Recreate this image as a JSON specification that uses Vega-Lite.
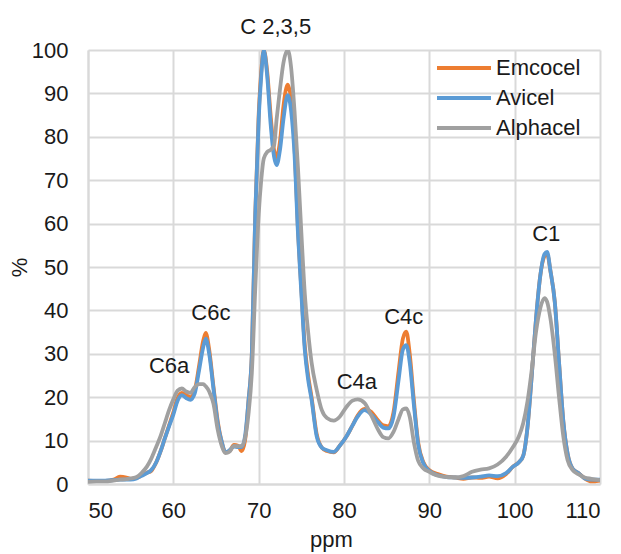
{
  "$schema": "https://vega.github.io/schema/vega-lite/v6.json",
  "width": 512,
  "height": 434,
  "autosize": "none",
  "padding": {"left": 88, "top": 50, "right": 21, "bottom": 70},
  "background": "white",
  "config": {
    "font": "Liberation Sans",
    "view": {"stroke": null},
    "axis": {
      "gridColor": "#D9D9D9", "gridWidth": 2, "domainColor": "#D9D9D9", "domainWidth": 2,
      "ticks": false, "labelFontSize": 22, "labelColor": "#1a1a1a", "titleFontSize": 22,
      "titleColor": "#1a1a1a", "titleFontWeight": "normal"
    }
  },
  "datasets": {
    "spectra": [
      {"ppm": 50, "Emcocel": 0.8, "Avicel": 0.8, "Alphacel": 0.5},
      {"ppm": 51, "Emcocel": 0.7, "Avicel": 0.8, "Alphacel": 0.6},
      {"ppm": 52, "Emcocel": 0.7, "Avicel": 0.8, "Alphacel": 0.6},
      {"ppm": 53, "Emcocel": 1.0, "Avicel": 0.9, "Alphacel": 0.8},
      {"ppm": 53.75, "Emcocel": 1.7, "Avicel": 1.0, "Alphacel": 1.0},
      {"ppm": 54.5, "Emcocel": 1.5, "Avicel": 1.0, "Alphacel": 1.1},
      {"ppm": 55, "Emcocel": 1.2, "Avicel": 1.0, "Alphacel": 1.3},
      {"ppm": 55.7, "Emcocel": 1.4, "Avicel": 1.3, "Alphacel": 1.6},
      {"ppm": 56.3, "Emcocel": 2.0, "Avicel": 1.9, "Alphacel": 2.6},
      {"ppm": 56.9, "Emcocel": 2.6, "Avicel": 2.5, "Alphacel": 4.0},
      {"ppm": 57.4, "Emcocel": 3.0, "Avicel": 3.2, "Alphacel": 5.8},
      {"ppm": 58, "Emcocel": 5.0, "Avicel": 5.0, "Alphacel": 8.6},
      {"ppm": 58.5, "Emcocel": 7.5, "Avicel": 7.5, "Alphacel": 11.0},
      {"ppm": 59, "Emcocel": 10.5, "Avicel": 10.5, "Alphacel": 14.0},
      {"ppm": 59.5, "Emcocel": 13.5, "Avicel": 13.3, "Alphacel": 17.0},
      {"ppm": 60, "Emcocel": 16.5, "Avicel": 16.0, "Alphacel": 19.5},
      {"ppm": 60.5, "Emcocel": 19.8, "Avicel": 19.2, "Alphacel": 21.5},
      {"ppm": 61, "Emcocel": 21.0, "Avicel": 20.5, "Alphacel": 22.0},
      {"ppm": 61.5, "Emcocel": 20.5, "Avicel": 19.8, "Alphacel": 21.3},
      {"ppm": 62, "Emcocel": 20.0, "Avicel": 19.4, "Alphacel": 21.0},
      {"ppm": 62.5, "Emcocel": 21.5, "Avicel": 20.8, "Alphacel": 22.3},
      {"ppm": 63, "Emcocel": 27, "Avicel": 26, "Alphacel": 23.0},
      {"ppm": 63.5, "Emcocel": 33, "Avicel": 31.5, "Alphacel": 23.0},
      {"ppm": 63.8, "Emcocel": 34.8, "Avicel": 33.5, "Alphacel": 22.5},
      {"ppm": 64.2, "Emcocel": 31, "Avicel": 30, "Alphacel": 21.3},
      {"ppm": 64.7, "Emcocel": 22.5, "Avicel": 22, "Alphacel": 18.5},
      {"ppm": 65.2, "Emcocel": 14.5, "Avicel": 14, "Alphacel": 12.5},
      {"ppm": 65.7, "Emcocel": 9.5, "Avicel": 9.5, "Alphacel": 8.6},
      {"ppm": 66.1, "Emcocel": 7.3, "Avicel": 7.3, "Alphacel": 7.1},
      {"ppm": 66.6, "Emcocel": 7.6, "Avicel": 7.8, "Alphacel": 7.5},
      {"ppm": 67.1, "Emcocel": 9.0, "Avicel": 8.6, "Alphacel": 8.8},
      {"ppm": 67.6, "Emcocel": 8.8, "Avicel": 8.5, "Alphacel": 8.7},
      {"ppm": 68, "Emcocel": 7.6, "Avicel": 8.5, "Alphacel": 8.8},
      {"ppm": 68.4, "Emcocel": 10, "Avicel": 11, "Alphacel": 10.5},
      {"ppm": 68.8, "Emcocel": 19, "Avicel": 19, "Alphacel": 16},
      {"ppm": 69.2, "Emcocel": 30, "Avicel": 30, "Alphacel": 25.6},
      {"ppm": 69.6, "Emcocel": 62, "Avicel": 62, "Alphacel": 45},
      {"ppm": 70, "Emcocel": 85, "Avicel": 84, "Alphacel": 62},
      {"ppm": 70.3, "Emcocel": 95, "Avicel": 94, "Alphacel": 70},
      {"ppm": 70.6, "Emcocel": 100, "Avicel": 100, "Alphacel": 75},
      {"ppm": 71, "Emcocel": 95, "Avicel": 94, "Alphacel": 76.5},
      {"ppm": 71.4, "Emcocel": 85, "Avicel": 83, "Alphacel": 77},
      {"ppm": 71.8, "Emcocel": 77, "Avicel": 75.5, "Alphacel": 78},
      {"ppm": 72.1, "Emcocel": 75.3, "Avicel": 73.5, "Alphacel": 84},
      {"ppm": 72.5, "Emcocel": 79, "Avicel": 77, "Alphacel": 91},
      {"ppm": 72.9, "Emcocel": 87, "Avicel": 84, "Alphacel": 97},
      {"ppm": 73.4, "Emcocel": 92, "Avicel": 89.6, "Alphacel": 100},
      {"ppm": 73.8, "Emcocel": 88.5, "Avicel": 86, "Alphacel": 96},
      {"ppm": 74.2, "Emcocel": 78, "Avicel": 76, "Alphacel": 86},
      {"ppm": 74.6, "Emcocel": 59, "Avicel": 58, "Alphacel": 73},
      {"ppm": 75, "Emcocel": 45, "Avicel": 44, "Alphacel": 58},
      {"ppm": 75.4, "Emcocel": 32, "Avicel": 31, "Alphacel": 44},
      {"ppm": 75.8, "Emcocel": 25, "Avicel": 24, "Alphacel": 35},
      {"ppm": 76.2, "Emcocel": 20, "Avicel": 19.4, "Alphacel": 28},
      {"ppm": 76.8, "Emcocel": 11.5, "Avicel": 11, "Alphacel": 21.7},
      {"ppm": 77.4, "Emcocel": 8.4, "Avicel": 8.4, "Alphacel": 17},
      {"ppm": 78, "Emcocel": 7.6, "Avicel": 7.8, "Alphacel": 15.2},
      {"ppm": 78.8, "Emcocel": 7.3, "Avicel": 7.4, "Alphacel": 14.6},
      {"ppm": 79.5, "Emcocel": 8.8, "Avicel": 8.8, "Alphacel": 15.5},
      {"ppm": 80.3, "Emcocel": 11.0, "Avicel": 11.0, "Alphacel": 17.8},
      {"ppm": 81, "Emcocel": 13.5, "Avicel": 13.5, "Alphacel": 19.2},
      {"ppm": 81.6, "Emcocel": 15.8, "Avicel": 15.5, "Alphacel": 19.5},
      {"ppm": 82.4, "Emcocel": 17.3, "Avicel": 17.0, "Alphacel": 18.7},
      {"ppm": 83.2, "Emcocel": 16.6, "Avicel": 16.0, "Alphacel": 15.8},
      {"ppm": 84, "Emcocel": 14.6, "Avicel": 14.2, "Alphacel": 12.5},
      {"ppm": 84.6, "Emcocel": 13.5, "Avicel": 13.0, "Alphacel": 10.8},
      {"ppm": 85.2, "Emcocel": 13.3, "Avicel": 12.8, "Alphacel": 10.5},
      {"ppm": 85.8, "Emcocel": 16.5, "Avicel": 15.5, "Alphacel": 12.0},
      {"ppm": 86.4, "Emcocel": 26, "Avicel": 24, "Alphacel": 15},
      {"ppm": 86.9, "Emcocel": 33.5, "Avicel": 31, "Alphacel": 17.2},
      {"ppm": 87.3, "Emcocel": 35.1, "Avicel": 32, "Alphacel": 17.4},
      {"ppm": 87.7, "Emcocel": 30, "Avicel": 28, "Alphacel": 15.5},
      {"ppm": 88.2, "Emcocel": 19, "Avicel": 18, "Alphacel": 9.5},
      {"ppm": 88.7, "Emcocel": 9.5, "Avicel": 9, "Alphacel": 5.3},
      {"ppm": 89.3, "Emcocel": 5.0, "Avicel": 4.8, "Alphacel": 3.6},
      {"ppm": 90, "Emcocel": 3.2, "Avicel": 3.0, "Alphacel": 2.8},
      {"ppm": 91, "Emcocel": 2.3, "Avicel": 2.0, "Alphacel": 1.9},
      {"ppm": 92, "Emcocel": 1.7, "Avicel": 1.6, "Alphacel": 1.6},
      {"ppm": 93, "Emcocel": 1.5, "Avicel": 1.5, "Alphacel": 1.5},
      {"ppm": 94, "Emcocel": 1.2, "Avicel": 1.4, "Alphacel": 1.8},
      {"ppm": 95, "Emcocel": 1.5, "Avicel": 1.5, "Alphacel": 2.8},
      {"ppm": 96, "Emcocel": 1.4, "Avicel": 1.7, "Alphacel": 3.3},
      {"ppm": 97, "Emcocel": 1.7, "Avicel": 2.0, "Alphacel": 3.6},
      {"ppm": 98, "Emcocel": 1.3, "Avicel": 1.8, "Alphacel": 4.5},
      {"ppm": 99, "Emcocel": 2.3, "Avicel": 2.5, "Alphacel": 6.3},
      {"ppm": 99.8, "Emcocel": 4.0, "Avicel": 4.0, "Alphacel": 8.5},
      {"ppm": 100.5, "Emcocel": 5.0, "Avicel": 5.0, "Alphacel": 11},
      {"ppm": 101, "Emcocel": 6.5, "Avicel": 6.5, "Alphacel": 14},
      {"ppm": 101.5, "Emcocel": 13, "Avicel": 13, "Alphacel": 19},
      {"ppm": 102, "Emcocel": 25, "Avicel": 25, "Alphacel": 26.3},
      {"ppm": 102.5, "Emcocel": 38, "Avicel": 38, "Alphacel": 35},
      {"ppm": 103, "Emcocel": 48, "Avicel": 48, "Alphacel": 40.5},
      {"ppm": 103.5, "Emcocel": 52.5, "Avicel": 53, "Alphacel": 42.8},
      {"ppm": 103.8, "Emcocel": 53, "Avicel": 53.5, "Alphacel": 42.0},
      {"ppm": 104.2, "Emcocel": 49, "Avicel": 49, "Alphacel": 38},
      {"ppm": 104.7, "Emcocel": 42, "Avicel": 42, "Alphacel": 30},
      {"ppm": 105.2, "Emcocel": 28, "Avicel": 28, "Alphacel": 20},
      {"ppm": 105.7, "Emcocel": 14.5, "Avicel": 14.5, "Alphacel": 11},
      {"ppm": 106.2, "Emcocel": 7, "Avicel": 7, "Alphacel": 5.5},
      {"ppm": 106.8, "Emcocel": 3.5, "Avicel": 3.5, "Alphacel": 3.2},
      {"ppm": 107.5, "Emcocel": 2.5, "Avicel": 2.5, "Alphacel": 2.2},
      {"ppm": 108.2, "Emcocel": 1.3, "Avicel": 1.3, "Alphacel": 1.5},
      {"ppm": 109, "Emcocel": 0.6, "Avicel": 1.0, "Alphacel": 1.2},
      {"ppm": 110, "Emcocel": 0.8, "Avicel": 1.0, "Alphacel": 0.9}
    ],
    "labels": [
      {"label": "C 2,3,5", "ppm": 72.0, "pct": 105.2},
      {"label": "C6c", "ppm": 64.4, "pct": 39.3},
      {"label": "C6a", "ppm": 59.5, "pct": 27.3},
      {"label": "C4a", "ppm": 81.5, "pct": 23.5},
      {"label": "C4c", "ppm": 87.0, "pct": 38.4},
      {"label": "C1", "ppm": 103.7, "pct": 57.5}
    ]
  },
  "layer": [
    {
      "data": {"name": "spectra"},
      "transform": [
        {"fold": ["Emcocel", "Avicel", "Alphacel"], "as": ["series", "value"]}
      ],
      "mark": {"type": "line", "strokeWidth": 3.8, "interpolate": "monotone", "clip": true},
      "encoding": {
        "x": {
          "field": "ppm", "type": "quantitative",
          "scale": {"domain": [50, 110], "nice": false, "zero": false},
          "axis": {"values": [50, 60, 70, 80, 90, 100, 110], "title": "ppm", "labelPadding": 16,
                   "titleX": 243, "titleY": 62, "titleBaseline": "alphabetic"}
        },
        "y": {
          "field": "value", "type": "quantitative",
          "scale": {"domain": [0, 100], "nice": false},
          "axis": {"values": [0, 10, 20, 30, 40, 50, 60, 70, 80, 90, 100], "title": "%", "labelPadding": 20,
                   "titleX": -69, "titleY": 217, "titleAngle": -90, "titleBaseline": "middle", "titleAlign": "center"}
        },
        "color": {
          "field": "series", "type": "nominal",
          "scale": {"domain": ["Emcocel", "Avicel", "Alphacel"], "range": ["#ED7D31", "#5B9BD5", "#A0A0A0"]},
          "legend": {
            "title": null, "orient": "none", "legendX": 347, "legendY": 6,
            "symbolType": "stroke", "symbolSize": 2916, "symbolStrokeWidth": 4,
            "clipHeight": 24,
            "labelFontSize": 22, "labelColor": "#1a1a1a", "labelOffset": 3, "rowPadding": 6
          }
        },
        "order": {"field": "series", "type": "nominal"}
      }
    },
    {
      "data": {"name": "labels"},
      "mark": {"type": "text", "fontSize": 22, "color": "#1a1a1a", "baseline": "middle", "align": "center"},
      "encoding": {
        "x": {"field": "ppm", "type": "quantitative"},
        "y": {"field": "pct", "type": "quantitative"},
        "text": {"field": "label", "type": "nominal"}
      }
    }
  ]
}
